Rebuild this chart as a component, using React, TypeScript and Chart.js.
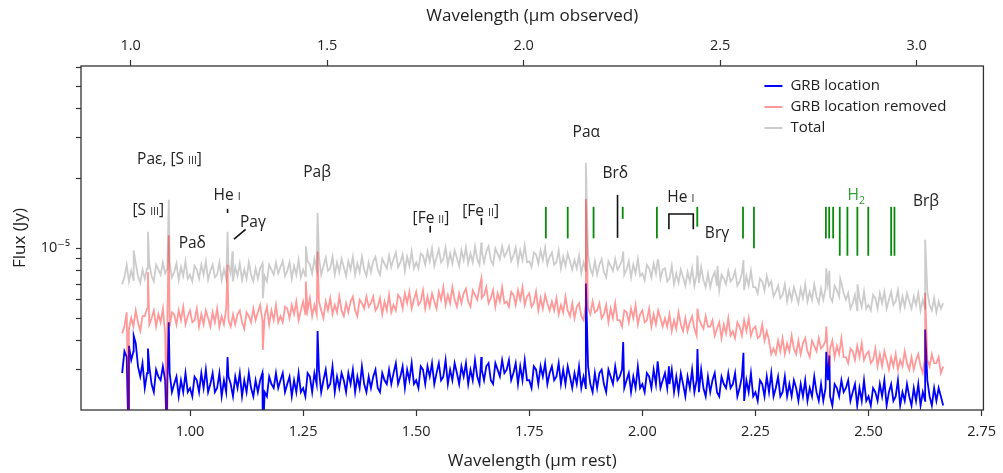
import React, { useEffect, useRef } from 'react';
import { Chart, registerables } from 'chart.js';

Chart.register(...registerables);

// ---------- data (flux values in µJy, converted to Jy when building datasets) ----------
const restWavelength = [
  0.850, 0.855, 0.860, 0.865, 0.870, 0.875, 0.880, 0.885, 0.890, 0.895,
  0.900, 0.905, 0.910, 0.915, 0.920, 0.925, 0.930, 0.935, 0.940, 0.945,
  0.950, 0.955, 0.960, 0.965, 0.970, 0.975, 0.980, 0.985, 0.990, 0.995,
  1.000, 1.005, 1.010, 1.015, 1.020, 1.025, 1.030, 1.035, 1.040, 1.045,
  1.050, 1.055, 1.060, 1.065, 1.070, 1.075, 1.080, 1.085, 1.090, 1.095,
  1.100, 1.105, 1.110, 1.115, 1.120, 1.125, 1.130, 1.135, 1.140, 1.145,
  1.150, 1.155, 1.160, 1.165, 1.170, 1.175, 1.180, 1.185, 1.190, 1.195,
  1.200, 1.205, 1.210, 1.215, 1.220, 1.225, 1.230, 1.235, 1.240, 1.245,
  1.250, 1.255, 1.260, 1.265, 1.270, 1.275, 1.280, 1.285, 1.290, 1.295,
  1.300, 1.305, 1.310, 1.315, 1.320, 1.325, 1.330, 1.335, 1.340, 1.345,
  1.350, 1.355, 1.360, 1.365, 1.370, 1.375, 1.380, 1.385, 1.390, 1.395,
  1.400, 1.405, 1.410, 1.415, 1.420, 1.425, 1.430, 1.435, 1.440, 1.445,
  1.450, 1.455, 1.460, 1.465, 1.470, 1.475, 1.480, 1.485, 1.490, 1.495,
  1.500, 1.505, 1.510, 1.515, 1.520, 1.525, 1.530, 1.535, 1.540, 1.545,
  1.550, 1.555, 1.560, 1.565, 1.570, 1.575, 1.580, 1.585, 1.590, 1.595,
  1.600, 1.605, 1.610, 1.615, 1.620, 1.625, 1.630, 1.635, 1.640, 1.645,
  1.650, 1.655, 1.660, 1.665, 1.670, 1.675, 1.680, 1.685, 1.690, 1.695,
  1.700, 1.705, 1.710, 1.715, 1.720, 1.725, 1.730, 1.735, 1.740, 1.745,
  1.750, 1.755, 1.760, 1.765, 1.770, 1.775, 1.780, 1.785, 1.790, 1.795,
  1.800, 1.805, 1.810, 1.815, 1.820, 1.825, 1.830, 1.835, 1.840, 1.845,
  1.850, 1.855, 1.860, 1.865, 1.870, 1.875, 1.880, 1.885, 1.890, 1.895,
  1.900, 1.905, 1.910, 1.915, 1.920, 1.925, 1.930, 1.935, 1.940, 1.945,
  1.950, 1.955, 1.960, 1.965, 1.970, 1.975, 1.980, 1.985, 1.990, 1.995,
  2.000, 2.005, 2.010, 2.015, 2.020, 2.025, 2.030, 2.035, 2.040, 2.045,
  2.050, 2.055, 2.060, 2.065, 2.070, 2.075, 2.080, 2.085, 2.090, 2.095,
  2.100, 2.105, 2.110, 2.115, 2.120, 2.125, 2.130, 2.135, 2.140, 2.145,
  2.150, 2.155, 2.160, 2.165, 2.170, 2.175, 2.180, 2.185, 2.190, 2.195,
  2.200, 2.205, 2.210, 2.215, 2.220, 2.225, 2.230, 2.235, 2.240, 2.245,
  2.250, 2.255, 2.260, 2.265, 2.270, 2.275, 2.280, 2.285, 2.290, 2.295,
  2.300, 2.305, 2.310, 2.315, 2.320, 2.325, 2.330, 2.335, 2.340, 2.345,
  2.350, 2.355, 2.360, 2.365, 2.370, 2.375, 2.380, 2.385, 2.390, 2.395,
  2.400, 2.405, 2.410, 2.415, 2.420, 2.425, 2.430, 2.435, 2.440, 2.445,
  2.450, 2.455, 2.460, 2.465, 2.470, 2.475, 2.480, 2.485, 2.490, 2.495,
  2.500, 2.505, 2.510, 2.515, 2.520, 2.525, 2.530, 2.535, 2.540, 2.545,
  2.550, 2.555, 2.560, 2.565, 2.570, 2.575, 2.580, 2.585, 2.590, 2.595,
  2.600, 2.605, 2.610, 2.615, 2.620, 2.625, 2.630, 2.635, 2.640, 2.645,
  2.650, 2.655, 2.660, 2.665,
];

const totalFlux = [
  7.0, 7.5, 8.5, 7.2, 8.0, 7.3, 8.6, 7.6, 7.1, 8.1,
  7.4, 8.2, 8.6, 7.6, 7.2, 8.5, 8.1, 7.7, 8.7, 7.8,
  8.2, 8.7, 7.5, 7.9, 8.6, 7.3, 8.3, 7.6, 8.8, 7.4,
  7.7, 7.2, 8.4, 8.1, 7.4, 8.5, 7.7, 8.8, 7.3, 8.0,
  8.5, 7.5, 7.7, 8.7, 7.3, 8.1, 7.4, 8.5, 7.8, 7.2,
  8.3, 7.6, 8.6, 7.3, 8.1, 7.4, 8.7, 7.7, 7.2, 8.2,
  7.4, 8.2, 8.6, 7.6, 7.2, 8.5, 8.1, 7.7, 8.7, 7.8,
  8.3, 8.8, 7.6, 8.0, 8.7, 7.4, 8.4, 7.7, 8.9, 7.5,
  8.1, 7.6, 8.8, 8.5, 7.8, 9.0, 8.1, 9.2, 7.7, 8.4,
  9.1, 8.0, 8.2, 9.2, 7.7, 8.7, 7.9, 9.0, 8.3, 7.6,
  8.8, 8.1, 9.2, 7.7, 8.6, 7.9, 9.2, 8.1, 7.6, 8.7,
  7.9, 8.8, 9.2, 8.1, 7.7, 9.0, 8.6, 8.2, 9.3, 8.3,
  9.0, 9.6, 8.3, 8.7, 9.4, 8.0, 9.2, 8.4, 9.7, 8.2,
  8.7, 8.2, 9.5, 9.3, 8.5, 9.7, 8.8, 10.0, 8.4, 9.1,
  9.9, 8.7, 9.0, 10.1, 8.5, 9.5, 8.6, 9.8, 9.1, 8.4,
  9.8, 8.9, 10.1, 8.6, 9.5, 8.7, 10.2, 9.0, 8.5, 9.7,
  8.7, 9.7, 10.2, 8.9, 8.5, 10.0, 9.5, 9.0, 10.2, 9.2,
  9.6, 10.2, 8.8, 9.3, 10.1, 8.6, 9.8, 8.9, 10.3, 8.7,
  8.8, 8.3, 9.6, 9.4, 8.6, 9.8, 8.9, 10.1, 8.5, 9.2,
  9.6, 8.5, 8.7, 9.8, 8.2, 9.2, 8.4, 9.5, 8.8, 8.1,
  8.9, 8.2, 9.3, 7.8, 8.7, 8.0, 9.4, 8.2, 7.7, 8.8,
  7.7, 8.5, 9.0, 7.9, 7.5, 8.8, 8.4, 8.0, 9.0, 8.1,
  8.4, 8.9, 7.7, 8.1, 8.8, 7.5, 8.5, 7.8, 9.0, 7.6,
  7.8, 7.3, 8.5, 8.2, 7.5, 8.6, 7.8, 8.9, 7.4, 8.1,
  8.2, 7.2, 7.4, 8.4, 7.0, 7.8, 7.1, 8.1, 7.5, 6.9,
  7.9, 7.2, 8.2, 6.9, 7.7, 7.1, 8.3, 7.3, 6.8, 7.8,
  6.8, 7.5, 7.9, 6.9, 6.6, 7.7, 7.4, 7.0, 8.0, 7.2,
  7.4, 8.0, 6.9, 7.2, 7.8, 6.6, 7.6, 6.9, 8.0, 6.8,
  6.8, 6.4, 7.4, 7.2, 6.6, 7.6, 6.9, 7.2, 6.2, 6.5,
  6.9, 6.1, 6.3, 7.0, 5.9, 6.6, 6.0, 6.8, 6.3, 5.8,
  6.7, 6.1, 7.0, 5.9, 6.5, 6.0, 7.0, 6.2, 5.8, 6.7,
  6.0, 6.7, 7.0, 6.2, 5.9, 6.9, 6.6, 6.2, 7.1, 6.4,
  6.0, 6.4, 5.5, 5.8, 6.3, 5.4, 6.1, 5.6, 6.5, 5.5,
  5.7, 5.4, 6.3, 6.1, 5.5, 6.4, 5.8, 6.5, 5.5, 6.0,
  6.5, 5.7, 5.9, 6.6, 5.5, 6.2, 5.6, 6.4, 5.9, 5.5,
  6.2, 5.7, 6.4, 5.4, 6.0, 5.5, 6.5, 5.7, 5.4, 6.1,
  5.3, 5.9, 5.5, 5.8,
];

const removedFlux = [
  4.3, 4.6, 5.3, 4.5, 5.0, 4.6, 5.4, 4.8, 4.4, 5.1,
  5.1, 5.5, 4.7, 5.0, 5.4, 4.6, 5.2, 4.8, 5.5, 4.3,
  4.9, 4.6, 5.3, 5.2, 4.7, 5.4, 4.9, 5.6, 4.7, 5.1,
  5.4, 4.8, 4.9, 5.5, 4.6, 5.2, 4.7, 5.4, 5.0, 4.6,
  5.3, 4.8, 5.5, 4.6, 5.1, 4.7, 5.5, 4.9, 4.6, 5.2,
  4.7, 5.2, 5.4, 4.8, 4.5, 5.3, 5.1, 4.8, 5.5, 4.9,
  5.3, 5.7, 4.9, 5.1, 5.6, 4.7, 5.4, 4.9, 5.7, 4.8,
  5.1, 4.8, 5.6, 5.5, 5.0, 5.7, 5.2, 5.9, 4.9, 5.4,
  5.9, 5.2, 5.4, 6.1, 5.1, 5.7, 5.2, 5.9, 5.4, 5.0,
  5.9, 5.4, 6.1, 5.2, 5.7, 5.3, 6.2, 5.4, 5.1, 5.8,
  5.3, 5.9, 6.2, 5.4, 5.1, 6.0, 5.8, 5.5, 6.2, 5.6,
  5.8, 6.2, 5.4, 5.6, 6.1, 5.2, 5.9, 5.4, 6.3, 5.3,
  5.7, 5.4, 6.3, 6.1, 5.5, 6.4, 5.8, 6.5, 5.5, 6.0,
  6.5, 5.7, 5.9, 6.6, 5.5, 6.2, 5.6, 6.4, 5.9, 5.5,
  6.5, 6.0, 6.8, 5.7, 6.3, 5.8, 6.8, 6.0, 5.6, 6.4,
  5.8, 6.4, 6.7, 5.9, 5.6, 6.6, 6.3, 6.0, 6.8, 6.1,
  6.3, 6.8, 5.8, 6.1, 6.6, 5.6, 6.4, 5.9, 6.8, 5.8,
  5.9, 5.6, 6.5, 6.3, 5.7, 6.6, 6.0, 6.8, 5.7, 6.2,
  6.4, 5.6, 5.8, 6.5, 5.4, 6.1, 5.5, 6.3, 5.8, 5.4,
  5.9, 5.4, 6.1, 5.2, 5.7, 5.3, 6.2, 5.4, 5.1, 5.8,
  5.0, 5.6, 5.8, 5.1, 4.9, 5.7, 5.5, 5.2, 5.9, 5.3,
  5.4, 5.8, 5.0, 5.2, 5.7, 4.8, 5.5, 5.0, 5.8, 4.9,
  4.9, 4.6, 5.4, 5.3, 4.8, 5.5, 5.0, 5.7, 4.7, 5.2,
  5.4, 4.8, 4.9, 5.5, 4.6, 5.2, 4.7, 5.4, 5.0, 4.6,
  5.0, 4.6, 5.2, 4.4, 4.9, 4.5, 5.3, 4.7, 4.4, 5.0,
  4.4, 4.8, 5.1, 4.5, 4.2, 5.0, 4.7, 4.5, 5.1, 4.6,
  4.6, 4.9, 4.2, 4.5, 4.8, 4.1, 4.7, 4.3, 5.0, 4.2,
  4.4, 4.1, 4.8, 4.6, 4.2, 4.9, 4.4, 5.0, 4.2, 4.5,
  4.6, 4.1, 4.2, 4.7, 4.0, 4.4, 4.0, 3.5, 3.7, 3.5,
  4.0, 3.6, 4.1, 3.5, 3.9, 3.6, 4.2, 3.7, 3.5, 4.0,
  3.5, 3.9, 4.1, 3.6, 3.4, 4.0, 3.8, 3.6, 4.1, 3.7,
  3.8, 4.0, 3.5, 3.7, 4.0, 3.4, 3.8, 3.5, 4.1, 3.4,
  3.4, 3.2, 3.7, 3.6, 3.3, 3.8, 3.4, 3.9, 3.3, 3.5,
  3.6, 3.2, 3.3, 3.7, 3.1, 3.5, 3.1, 3.6, 3.3, 3.0,
  3.4, 3.1, 3.5, 3.0, 3.3, 3.1, 3.6, 3.2, 3.0, 3.4,
  3.0, 3.3, 3.5, 3.1, 2.9, 3.4, 3.3, 3.1, 3.5, 3.2,
  3.2, 3.4, 2.9, 3.1,
];

const grbFlux = [
  2.9, 3.6, 3.4, 3.8, 3.3, 3.6, 3.9, 3.1, 2.8, 3.2,
  2.5, 2.9, 3.1, 2.6, 2.4, 3.0, 2.8, 2.7, 3.1, 2.7,
  2.7, 2.9, 2.4, 2.6, 2.8, 2.3, 2.7, 2.4, 2.9, 2.4,
  2.5, 2.3, 2.8, 2.7, 2.4, 2.9, 2.5, 3.0, 2.4, 2.6,
  2.9, 2.4, 2.5, 2.9, 2.3, 2.7, 2.4, 2.8, 2.6, 2.3,
  2.8, 2.5, 2.9, 2.3, 2.7, 2.4, 2.9, 2.5, 2.3, 2.7,
  2.4, 2.7, 2.9, 2.4, 2.3, 2.8, 2.6, 2.5, 2.9, 2.5,
  2.7, 2.9, 2.4, 2.6, 2.8, 2.3, 2.7, 2.4, 2.9, 2.4,
  2.5, 2.3, 2.9, 2.8, 2.4, 2.9, 2.6, 3.0, 2.4, 2.7,
  3.0, 2.5, 2.6, 3.1, 2.4, 2.8, 2.5, 2.9, 2.7, 2.4,
  2.9, 2.6, 3.0, 2.4, 2.8, 2.5, 3.1, 2.6, 2.4, 2.8,
  2.5, 2.8, 3.0, 2.5, 2.4, 2.9, 2.7, 2.6, 3.0, 2.6,
  2.9, 3.2, 2.6, 2.8, 3.1, 2.5, 3.0, 2.7, 3.2, 2.6,
  2.7, 2.5, 3.1, 3.0, 2.6, 3.1, 2.8, 3.2, 2.6, 2.9,
  3.2, 2.7, 2.8, 3.3, 2.6, 3.0, 2.7, 3.2, 2.9, 2.6,
  3.1, 2.8, 3.2, 2.6, 3.0, 2.7, 3.3, 2.8, 2.6, 3.0,
  2.7, 3.1, 3.2, 2.7, 2.6, 3.2, 3.0, 2.8, 3.3, 2.9,
  3.0, 3.3, 2.7, 2.9, 3.2, 2.6, 3.1, 2.7, 3.3, 2.7,
  2.7, 2.5, 3.1, 3.0, 2.6, 3.1, 2.8, 3.2, 2.6, 2.9,
  3.1, 2.7, 2.8, 3.2, 2.6, 3.0, 2.6, 3.1, 2.8, 2.5,
  2.9, 2.6, 3.1, 2.5, 2.8, 2.5, 3.1, 2.6, 2.4, 2.9,
  2.5, 2.9, 3.0, 2.6, 2.4, 3.0, 2.8, 2.6, 3.1, 2.7,
  2.8, 3.0, 2.5, 2.7, 2.9, 2.4, 2.8, 2.5, 3.1, 2.5,
  2.6, 2.4, 2.9, 2.8, 2.5, 3.0, 2.6, 3.1, 2.5, 2.7,
  2.9, 2.5, 2.6, 3.0, 2.4, 2.8, 2.4, 2.9, 2.6, 2.3,
  2.8, 2.5, 3.0, 2.4, 2.7, 2.4, 3.0, 2.5, 2.3, 2.8,
  2.4, 2.7, 2.9, 2.4, 2.3, 2.8, 2.6, 2.5, 2.9, 2.5,
  2.6, 2.9, 2.3, 2.5, 2.8, 2.2, 2.7, 2.4, 2.9, 2.3,
  2.4, 2.2, 2.7, 2.6, 2.3, 2.8, 2.4, 2.9, 2.3, 2.5,
  2.8, 2.3, 2.4, 2.8, 2.3, 2.6, 2.3, 2.7, 2.5, 2.2,
  2.6, 2.3, 2.7, 2.2, 2.5, 2.3, 2.8, 2.4, 2.2, 2.6,
  2.2, 2.5, 2.7, 2.3, 2.1, 2.6, 2.5, 2.3, 2.7, 2.4,
  2.5, 2.7, 2.2, 2.4, 2.6, 2.1, 2.5, 2.2, 2.7, 2.2,
  2.3, 2.1, 2.5, 2.4, 2.2, 2.6, 2.3, 2.7, 2.1, 2.4,
  2.6, 2.2, 2.3, 2.7, 2.1, 2.4, 2.2, 2.6, 2.3, 2.1,
  2.5, 2.2, 2.6, 2.1, 2.4, 2.2, 2.7, 2.3, 2.1, 2.5,
  2.2, 2.5, 2.3, 2.1,
];

// narrow emission / absorption features (µJy; null = no feature in that spectrum)
const lineWavelength = [0.864, 0.8755, 0.907, 0.949, 0.953, 1.083, 1.094, 1.161, 1.256, 1.282, 1.644, 1.8751, 1.9576, 2.0338, 2.0587, 2.1218, 2.1661, 2.2235, 2.4066, 2.4134, 2.4375, 2.4756, 2.6252];
const lineTotal = [null, 9.8, 11.8, null, 16.2, 11.8, 9.7, 6.1, 10.2, 14.2, 10.6, 23.4, 9.7, 8.9, null, 9.3, 8.4, 8.9, 8.2, 8.0, 7.4, 7.0, 10.9];
const lineRemoved = [1.5, null, 7.9, 1.5, 11.4, 8.5, null, 3.65, 7.2, 9.7, 7.4, 16.3, null, null, null, 5.5, null, null, 4.6, 3.1, null, null, 6.44];
const lineGrb = [1.5, 4.2, 3.7, 1.5, 4.8, 3.4, null, 1.5, null, 4.4, 3.4, 7.06, 3.95, 3.26, 3.1, 3.68, null, 3.55, 3.58, 3.45, null, null, 4.47];

// axis ticks
const restTicks = [1.0, 1.25, 1.5, 1.75, 2.0, 2.25, 2.5, 2.75];
const observedTicks = [1.0, 1.5, 2.0, 2.5, 3.0];
const fluxTicks = [3e-6, 4e-6, 5e-6, 6e-6, 7e-6, 8e-6, 9e-6, 1e-5, 2e-5, 3e-5, 4e-5, 5e-5, 6e-5];
const labelledFluxTicks = [1e-5];

// line identifications
type Seg = { t: string; small?: boolean; sub?: boolean };
const lineLabels: { text: Seg[]; wl: number; flux: number; green?: boolean }[] = [
  { text: [{ t: 'Paε, [S ' }, { t: 'III', small: true }, { t: ']' }], wl: 0.9546, flux: 24.4 },
  { text: [{ t: '[S ' }, { t: 'III', small: true }, { t: ']' }], wl: 0.9077, flux: 14.7 },
  { text: [{ t: 'Paδ' }], wl: 1.005, flux: 10.56 },
  { text: [{ t: 'He ' }, { t: 'I', small: true }], wl: 1.082, flux: 17.1 },
  { text: [{ t: 'Paγ' }], wl: 1.139, flux: 13.1 },
  { text: [{ t: 'Paβ' }], wl: 1.281, flux: 21.4 },
  { text: [{ t: '[Fe ' }, { t: 'II', small: true }, { t: ']' }], wl: 1.5326, flux: 13.6 },
  { text: [{ t: '[Fe ' }, { t: 'II', small: true }, { t: ']' }], wl: 1.6425, flux: 14.6 },
  { text: [{ t: 'Paα' }], wl: 1.876, flux: 32.0 },
  { text: [{ t: 'Brδ' }], wl: 1.94, flux: 21.3 },
  { text: [{ t: 'He ' }, { t: 'I', small: true }], wl: 2.085, flux: 16.8 },
  { text: [{ t: 'Brγ' }], wl: 2.165, flux: 11.7 },
  { text: [{ t: 'H' }, { t: '2', sub: true }], wl: 2.473, flux: 17.1, green: true },
  { text: [{ t: 'Brβ' }], wl: 2.627, flux: 16.0 },
];

// black marker polylines: [wavelength, flux µJy] vertices
const markerPaths: number[][][] = [
  [[1.083, 14.8], [1.083, 14.2]],
  [[1.123, 12.07], [1.0973, 10.97]],
  [[1.531, 12.5], [1.531, 11.7]],
  [[1.6442, 13.5], [1.6442, 12.6]],
  [[1.9451, 17.0], [1.9451, 11.1]],
  [[2.0587, 12.1], [2.0587, 14.06], [2.1126, 14.06], [2.1126, 12.1]],
];

// H2 line positions (green ticks)
const h2Wavelength = [1.7866, 1.835, 1.8921, 1.9566, 2.0321, 2.1214, 2.2225, 2.2467, 2.4057, 2.413, 2.4218, 2.4364, 2.4533, 2.4753, 2.4994, 2.55, 2.5573];
const h2Bottom = [11.04, 11.04, 11.04, 13.4, 11.04, 12.4, 11.04, 10.0, 11.04, 11.04, 11.04, 9.29, 9.29, 9.29, 9.29, 9.29, 9.29];
const h2Top = 15.1;

const legendLabels = ['GRB location', 'GRB location removed', 'Total'];

// ---------- style / layout ----------
const UJY = 1e-6;
const X_MIN = 0.759;
const X_MAX = 2.754;
const ONE_PLUS_Z = 1.151;
const Y_MIN = 2.01e-6;
const Y_MAX = 6.11e-5;
const FONT = '"Open Sans", "DejaVu Sans", sans-serif';
const BLUE = '#0000ff';
const PINK = 'rgba(255, 0, 0, 0.4)';
const GREY = '#cccccc';
const AXIS = '#333333';
const TEXT = '#222222';
const H2_LINE = '#0a8a0a';
const H2_TEXT = '#2f9f2f';
const LINE_W = 1.8;

function buildSeries(cont: number[], feat: (number | null)[]) {
  const n = Math.min(cont.length, restWavelength.length);
  const pts: { x: number; y: number }[] = [];
  for (let i = 0; i < n; i++) pts.push({ x: restWavelength[i], y: cont[i] * UJY });
  lineWavelength.forEach((x, i) => {
    const v = feat[i];
    if (v !== null && v !== undefined) pts.push({ x, y: v * UJY });
  });
  pts.sort((a, b) => a.x - b.x);
  return pts;
}

const framePlugin = {
  id: 'frame',
  afterDraw(chart: any) {
    const { ctx, chartArea: a } = chart;
    ctx.save();
    ctx.strokeStyle = AXIS;
    ctx.lineWidth = 1.3;
    ctx.strokeRect(a.left, a.top, a.right - a.left, a.bottom - a.top);
    ctx.restore();
  },
};

const annotationPlugin = {
  id: 'lineIds',
  afterDatasetsDraw(chart: any) {
    const { ctx } = chart;
    const xs = chart.scales.x;
    const ys = chart.scales.y;
    const px = (wl: number) => xs.getPixelForValue(wl);
    const py = (f: number) => ys.getPixelForValue(f * UJY);
    ctx.save();
    ctx.strokeStyle = H2_LINE;
    ctx.lineWidth = 1.8;
    h2Wavelength.forEach((wl, i) => {
      ctx.beginPath();
      ctx.moveTo(px(wl), py(h2Top));
      ctx.lineTo(px(wl), py(h2Bottom[i]));
      ctx.stroke();
    });
    ctx.strokeStyle = '#111';
    ctx.lineWidth = 1.6;
    markerPaths.forEach((path) => {
      ctx.beginPath();
      path.forEach(([wl, f], k) => {
        if (k === 0) ctx.moveTo(px(wl), py(f));
        else ctx.lineTo(px(wl), py(f));
      });
      ctx.stroke();
    });
    const big = `15.5px ${FONT}`;
    const small = `10.5px ${FONT}`;
    ctx.textBaseline = 'alphabetic';
    ctx.textAlign = 'left';
    lineLabels.forEach((lab) => {
      let total = 0;
      const widths = lab.text.map((s) => {
        ctx.font = s.small || s.sub ? small : big;
        const w = ctx.measureText(s.t).width;
        total += w;
        return w;
      });
      let cx = px(lab.wl) - total / 2;
      const base = py(lab.flux) + 5.5;
      ctx.fillStyle = lab.green ? H2_TEXT : TEXT;
      lab.text.forEach((s, k) => {
        ctx.font = s.small || s.sub ? small : big;
        ctx.fillText(s.t, cx, s.sub ? base + 4 : base);
        cx += widths[k];
      });
    });
    ctx.restore();
  },
};

const legendPlugin = {
  id: 'customLegend',
  afterDraw(chart: any) {
    const { ctx, chartArea: a } = chart;
    const colors = [BLUE, PINK, GREY];
    ctx.save();
    ctx.font = `15px ${FONT}`;
    ctx.textBaseline = 'middle';
    ctx.textAlign = 'left';
    legendLabels.forEach((label, i) => {
      const yy = a.top + 20 + i * 21;
      ctx.strokeStyle = colors[i];
      ctx.lineWidth = 2;
      ctx.beginPath();
      ctx.moveTo(a.right - 219, yy);
      ctx.lineTo(a.right - 201, yy);
      ctx.stroke();
      ctx.fillStyle = TEXT;
      ctx.fillText(label, a.right - 193, yy);
    });
    ctx.restore();
  },
};

export default function App() {
  const ref = useRef<HTMLCanvasElement>(null);
  useEffect(() => {
    if (!ref.current) return;
    const tickFont = { family: FONT, size: 14.5 };
    const titleFont = { family: FONT, size: 17 };
    const chart = new Chart(ref.current, {
      type: 'line',
      data: {
        datasets: [
          { label: legendLabels[1], data: buildSeries(removedFlux, lineRemoved), borderColor: PINK, borderWidth: LINE_W, pointRadius: 0, tension: 0 },
          { label: legendLabels[0], data: buildSeries(grbFlux, lineGrb), borderColor: BLUE, borderWidth: LINE_W, pointRadius: 0, tension: 0 },
          { label: legendLabels[2], data: buildSeries(totalFlux, lineTotal), borderColor: GREY, borderWidth: LINE_W, pointRadius: 0, tension: 0 },
        ],
      },
      options: {
        animation: false,
        responsive: false,
        devicePixelRatio: 1,
        layout: { padding: { left: 0, right: 13.7, top: 0, bottom: 0 } },
        plugins: { legend: { display: false }, tooltip: { enabled: false } },
        scales: {
          x: {
            type: 'linear',
            position: 'bottom',
            min: X_MIN,
            max: X_MAX,
            afterBuildTicks: (s: any) => { s.ticks = restTicks.map((v) => ({ value: v })); },
            afterFit: (s: any) => { s.height = 63; },
            ticks: { autoSkip: false, maxRotation: 0, color: TEXT, font: tickFont, padding: 7, callback: (v: any) => Number(v).toFixed(2) },
            grid: { drawOnChartArea: false, drawTicks: true, tickLength: 6, tickColor: AXIS, tickWidth: 1.2 },
            border: { display: false },
            title: { display: true, text: 'Wavelength (μm rest)', color: TEXT, font: titleFont, padding: { top: 0, bottom: 1.5 } },
          },
          x2: {
            type: 'linear',
            position: 'top',
            min: X_MIN * ONE_PLUS_Z,
            max: X_MAX * ONE_PLUS_Z,
            afterBuildTicks: (s: any) => { s.ticks = observedTicks.map((v) => ({ value: v })); },
            afterFit: (s: any) => { s.height = 66; },
            ticks: { autoSkip: false, maxRotation: 0, color: TEXT, font: tickFont, padding: 5, callback: (v: any) => Number(v).toFixed(1) },
            grid: { drawOnChartArea: false, drawTicks: true, tickLength: 6, tickColor: AXIS, tickWidth: 1.2 },
            border: { display: false },
            title: { display: true, text: 'Wavelength (μm observed)', color: TEXT, font: titleFont, padding: { top: 6, bottom: 0 } },
          },
          y: {
            type: 'logarithmic',
            position: 'left',
            min: Y_MIN,
            max: Y_MAX,
            afterBuildTicks: (s: any) => { s.ticks = fluxTicks.map((v) => ({ value: v })); },
            afterFit: (s: any) => { s.width = 81; },
            ticks: {
              autoSkip: false,
              color: TEXT,
              font: tickFont,
              padding: 6,
              callback: (v: any) => (labelledFluxTicks.some((t) => Math.abs(Number(v) - t) < t * 1e-6) ? '10⁻⁵' : ''),
            },
            grid: { drawOnChartArea: false, drawTicks: true, tickLength: 5, tickColor: AXIS, tickWidth: 1.2 },
            border: { display: false },
            title: { display: true, text: 'Flux (Jy)', color: TEXT, font: titleFont, padding: { top: 10, bottom: 0 } },
          },
        },
      } as any,
      plugins: [annotationPlugin, framePlugin, legendPlugin],
    } as any);
    return () => chart.destroy();
  }, []);
  return (
    <div style={{ position: 'fixed', left: 0, top: 0, width: 1003, height: 473, background: '#ffffff' }}>
      <canvas ref={ref} width={1003} height={473} style={{ display: 'block', width: 1003, height: 473 }} />
    </div>
  );
}
